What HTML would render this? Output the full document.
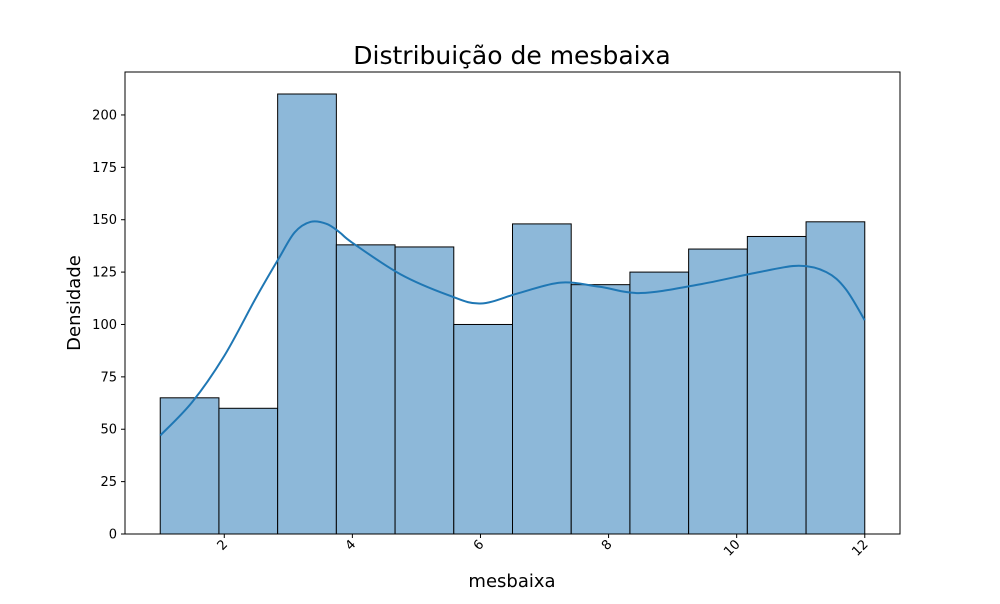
<!DOCTYPE html>
<html><head><meta charset="utf-8"><style>
body{margin:0;background:#fff;font-family:"DejaVu Sans","Liberation Sans",sans-serif;}
</style></head><body>
<svg id="chart" width="1000" height="600" xmlns="http://www.w3.org/2000/svg" font-family="DejaVu Sans, Liberation Sans, sans-serif">
<rect width="1000" height="600" fill="#fff"/>
<text x="512" y="64" font-size="25" text-anchor="middle" fill="#000">Distribuição de mesbaixa</text>
<g id="bars"></g>
<g id="kde"></g>
<rect x="125" y="72" width="775" height="462" fill="none" stroke="#000" stroke-width="1"/>
<g id="xt"></g>
<g id="yt"></g>
<text x="512" y="587" font-size="18" text-anchor="middle">mesbaixa</text>
<text transform="translate(80,303) rotate(-90)" font-size="18" text-anchor="middle">Densidade</text>
</svg>
<script>
const counts=[65,60,210,138,137,100,148,119,125,136,142,149];
const binStart=1, binEnd=12;
const kdeX=[1,1.5,2,2.5,2.86,3.1,3.35,3.6,3.8,4,4.75,5.5,6,6.6,7.25,7.86,8.5,9.4,10.35,10.97,11.4,11.7,12];
const kdeY=[47,63,85,113,132,144,149,148,144,139,124,114,110,115,120,118,115,119,125,128,125,117,102];
const xTicks=[2,4,6,8,10,12];
const yTicks=[0,25,50,75,100,125,150,175,200];
const x=v=>125+(v-0.45)/(12.55-0.45)*775;
const y=v=>534-v/220.5*462;
const NS="http://www.w3.org/2000/svg";
function mk(t,a,p){const e=document.createElementNS(NS,t);for(const k in a)e.setAttribute(k,a[k]);p.appendChild(e);return e;}
const bw=(binEnd-binStart)/counts.length;
const bars=document.getElementById('bars');
counts.forEach((c,i)=>{const x0=x(binStart+i*bw),x1=x(binStart+(i+1)*bw);
const r=mk('rect',{x:x0,y:y(c),width:x1-x0,height:y(0)-y(c),fill:'#8db8d9',stroke:'#000','stroke-width':1},bars);

});
const P=kdeX.map((v,i)=>[x(v),y(kdeY[i])]);
let d='M'+P[0][0]+','+P[0][1];
for(let i=0;i<P.length-1;i++){const p0=P[i-1]||P[i],p1=P[i],p2=P[i+1],p3=P[i+2]||p2;
d+=` C${p1[0]+(p2[0]-p0[0])/6},${p1[1]+(p2[1]-p0[1])/6} ${p2[0]-(p3[0]-p1[0])/6},${p2[1]-(p3[1]-p1[1])/6} ${p2[0]},${p2[1]}`;}
const kp=mk('path',{d:d,fill:'none',stroke:'#1f77b4','stroke-width':2},document.getElementById('kde'));


const xt=document.getElementById('xt');
xTicks.forEach(t=>{const X=x(t);mk('line',{x1:X,x2:X,y1:534,y2:538,stroke:'#000'},xt);
const tx=mk('text',{x:0,y:0,'font-size':13,'text-anchor':'end',transform:`translate(${X+4},${545}) rotate(-45)`},xt);
tx.textContent=t;

});
const yt=document.getElementById('yt');
yTicks.forEach(t=>{const Y=y(t);mk('line',{x1:121,x2:125,y1:Y,y2:Y,stroke:'#000'},yt);
const tx=mk('text',{x:117,y:Y+4.5,'font-size':13,'text-anchor':'end'},yt);
tx.textContent=t;

});
</script>
</body></html>
